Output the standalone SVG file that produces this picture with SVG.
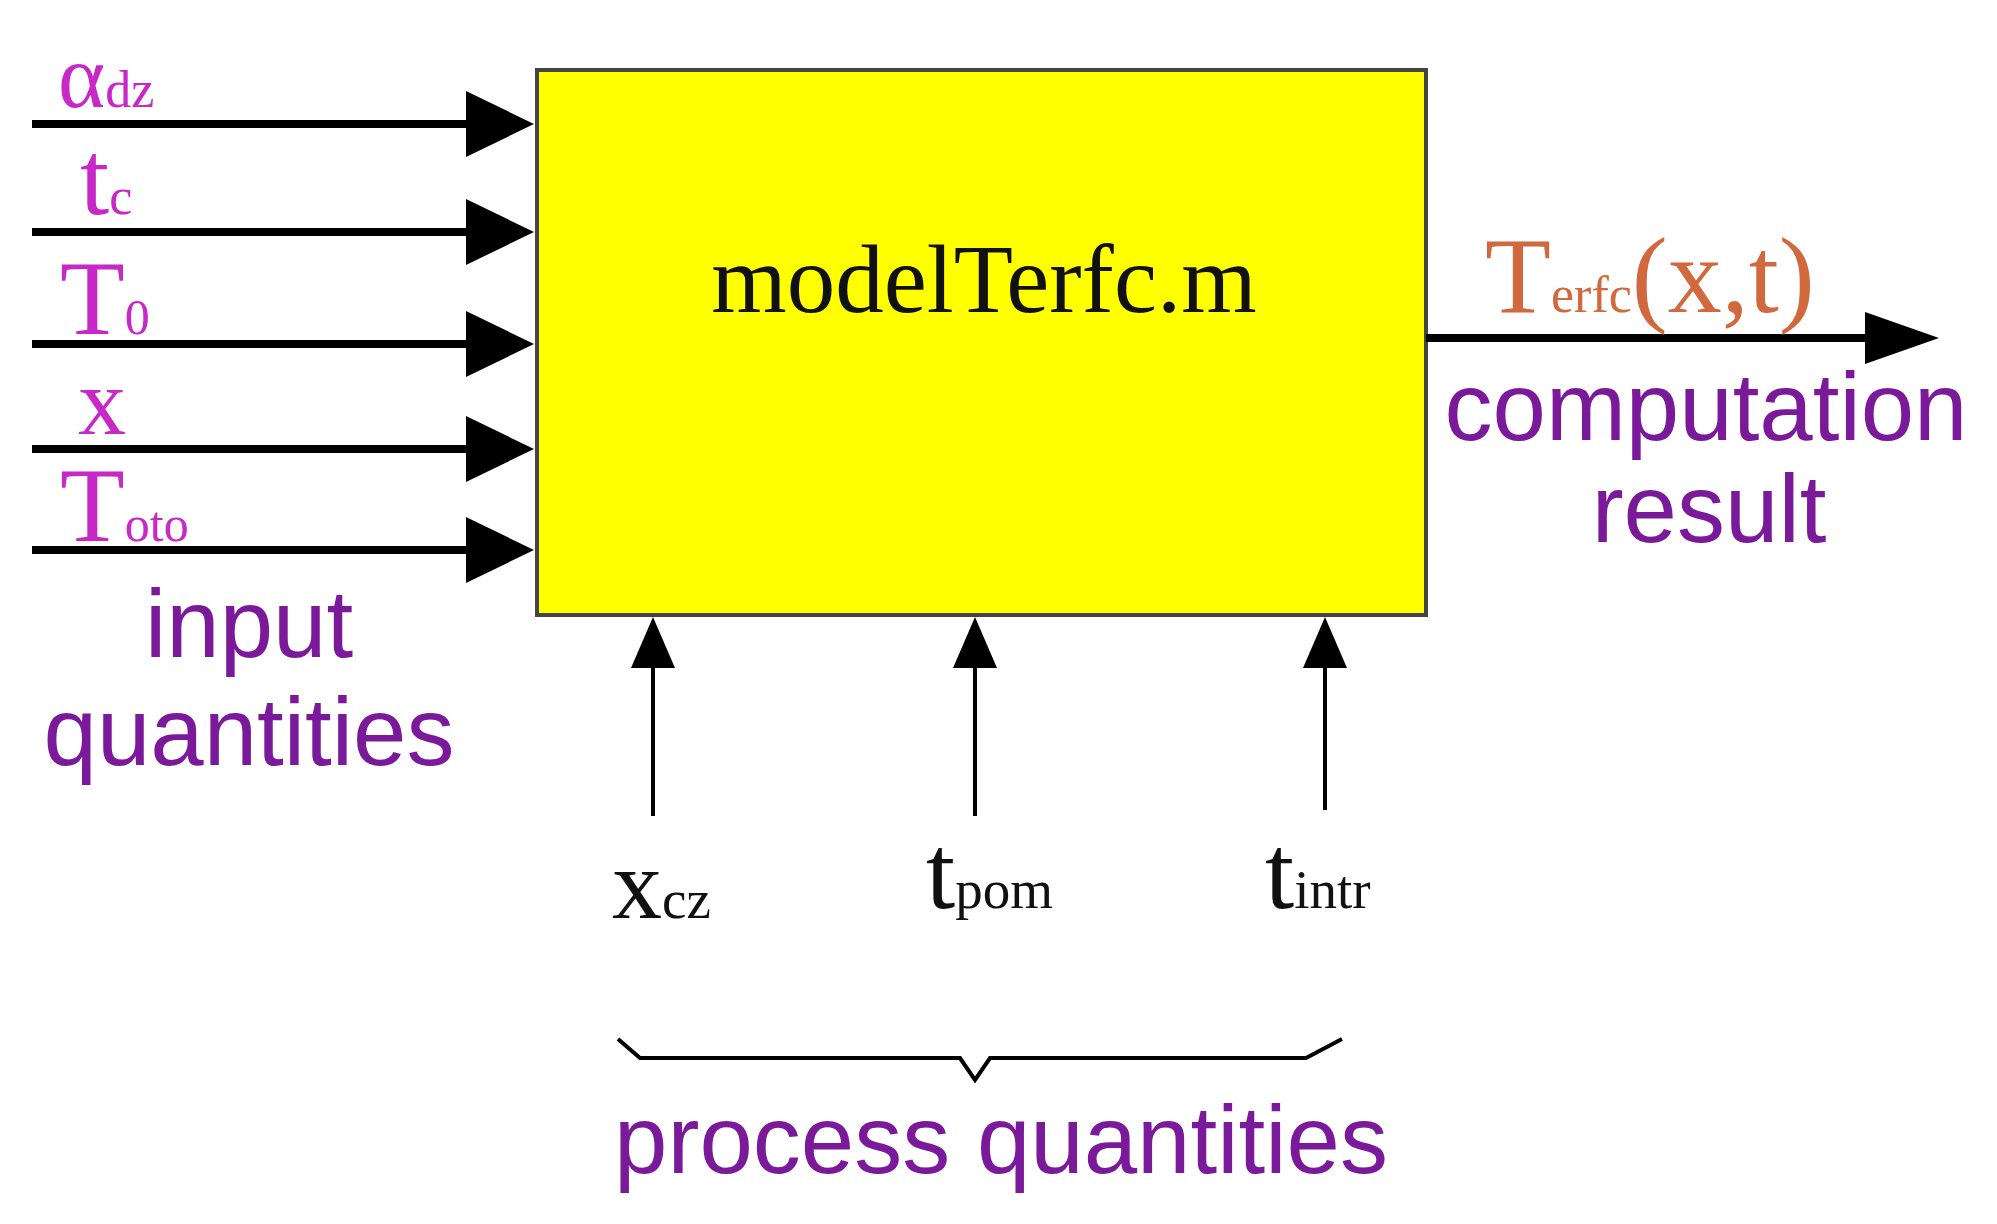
<svg xmlns="http://www.w3.org/2000/svg" width="1997" height="1224" viewBox="0 0 1997 1224">
<style>
.in{font-family:"Liberation Serif",serif;fill:#c828c8}
.blk{font-family:"Liberation Serif",serif;fill:#111}
.lab{font-family:"Liberation Sans",sans-serif;fill:#7a1a9a;font-size:96px}
.out{font-family:"Liberation Serif",serif;fill:#d2693e}
.thick{stroke:#000;stroke-width:8;fill:none}
.thin{stroke:#000;stroke-width:4;fill:none}
</style>
<rect width="1997" height="1224" fill="#fff"/>
<g id="box"><rect x="537" y="70" width="889" height="545" fill="#ffff00" stroke="#444" stroke-width="4"/>
<text class="blk" x="984" y="312" font-size="97" text-anchor="middle">modelTerfc.m</text></g>
<g id="connectors">
<g class="thick"><path d="M32 124H470M32 232H470M32 344H470M32 449H470M32 550H470M1426 338H1875"/></g>
<g fill="#000"><path d="M466 91L534 124L466 157Z"/><path d="M466 199L534 232L466 265Z"/><path d="M466 311L534 344L466 377Z"/><path d="M466 416L534 449L466 482Z"/><path d="M466 517L534 550L466 583Z"/><path d="M1865 312L1939 338L1865 364Z"/>
<path d="M631 668L653 617L675 668Z"/><path d="M953 668L975 617L997 668Z"/><path d="M1303 668L1325 617L1347 668Z"/></g>
<path class="thin" d="M653 660V816M975 660V816M1325 660V810"/>
<path class="thin" d="M618 1039L640 1058H960L975 1080L990 1058H1306L1342 1039"/>
</g>
<g id="inputs">
<text class="in" x="58" y="107" font-size="90">α<tspan font-size="52">dz</tspan></text>
<text class="in" x="80" y="214" font-size="105">t<tspan font-size="52">c</tspan></text>
<text class="in" x="60" y="334" font-size="106">T<tspan font-size="50">0</tspan></text>
<text class="in" x="78" y="434" font-size="96">x</text>
<text class="in" x="60" y="541" font-size="106">T<tspan font-size="50">oto</tspan></text>
<text class="lab" x="249" y="657" text-anchor="middle">input</text>
<text class="lab" x="249" y="765" text-anchor="middle">quantities</text>
</g>
<g id="output">
<text class="out" x="1485" y="312" font-size="108">T<tspan font-size="52">erfc</tspan>(x,t)</text>
<text class="lab" x="1706" y="440" text-anchor="middle">computation</text>
<text class="lab" x="1709" y="542" text-anchor="middle">result</text>
</g>
<g id="process">
<text class="blk" x="612" y="918" font-size="100">x<tspan font-size="55">cz</tspan></text>
<text class="blk" x="926" y="908" font-size="105">t<tspan font-size="55">pom</tspan></text>
<text class="blk" x="1265" y="908" font-size="105">t<tspan font-size="55">intr</tspan></text>
<text class="lab" x="1001" y="1173" text-anchor="middle" font-size="94">process quantities</text>
</g>
</svg>
